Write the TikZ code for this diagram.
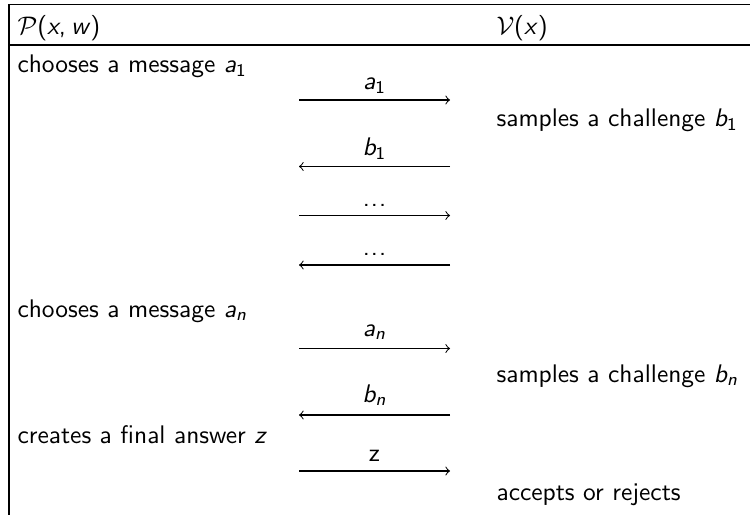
\documentclass[tikz,border=0pt]{standalone}
\usepackage{amsmath}
\newcommand{\iv}[1]{\textsl{#1}}
\newcommand{\sub}[1]{_{\textsf{\upshape #1}}}
\newcommand{\mydots}{{.}\kern0.4pt{.}\kern0.4pt{.}}
\tikzset{
  txt/.style={anchor=base west, inner sep=0pt, font=\sffamily},
  lbl/.style={anchor=base, inner sep=0pt, font=\sffamily},
  rule/.style={line width=0.45pt},
  msg/.style={->, line width=0.4pt}
}
\begin{document}
\begin{tikzpicture}[x=0.393pt,y=-0.393pt]
\useasboundingbox (0,0) rectangle (750,515);
% frame
\coordinate (tl) at (9,4.5);
\coordinate (tr) at (750,4.5);
\coordinate (bl) at (9,515);
\coordinate (hl) at (9,45);
\coordinate (hr) at (750,45);
\draw[rule] (tr) -- (tl) -- (bl);
\draw[rule] (hl) -- (hr);
% header
\node[txt] (hp) at (17,35) {$\mathcal{P}$(\iv{x},\kern2pt\iv{w})};
\node[txt] (hv) at (496,35) {$\mathcal{V}$(\iv{x})};
% prover / verifier texts
\node[txt] (p1) at (17,73) {chooses a message $\iv{a}\sub{1}$};
\node[txt] (v1) at (496,127) {samples a challenge $\iv{b}\sub{1}$};
\node[txt] (pn) at (17,317) {chooses a message $\iv{a}\sub{\slshape n}$};
\node[txt] (vn) at (496,382) {samples a challenge $\iv{b}\sub{\slshape n}$};
\node[txt] (pz) at (17,443) {creates a final answer \iv{z}};
\node[txt] (vz) at (496,500) {accepts or rejects};
% arrows
\coordinate (a1l) at (299,100); \coordinate (a1r) at (450,100);
\coordinate (b1l) at (299,166.5); \coordinate (b1r) at (450,166.5);
\coordinate (d1l) at (299,215.5); \coordinate (d1r) at (450,215.5);
\coordinate (d2l) at (299,265); \coordinate (d2r) at (450,265);
\coordinate (anl) at (299,348.5); \coordinate (anr) at (450,348.5);
\coordinate (bnl) at (299,415); \coordinate (bnr) at (450,415);
\coordinate (zl) at (299,471); \coordinate (zr) at (450,471);
\draw[msg] (a1l) -- (a1r);
\draw[msg] (b1r) -- (b1l);
\draw[msg] (d1l) -- (d1r);
\draw[msg] (d2r) -- (d2l);
\draw[msg] (anl) -- (anr);
\draw[msg] (bnr) -- (bnl);
\draw[msg] (zl) -- (zr);
% arrow labels
\node[lbl] (la1) at (374.5,90) {$\iv{a}\sub{1}$};
\node[lbl] (lb1) at (374.5,156) {$\iv{b}\sub{1}$};
\node[lbl] (ld1) at (374.5,206) {\mydots};
\node[lbl] (ld2) at (374.5,255) {\mydots};
\node[lbl] (lan) at (374.5,336) {$\iv{a}\sub{\slshape n}$};
\node[lbl] (lbn) at (374.5,402) {$\iv{b}\sub{\slshape n}$};
\node[lbl] (lz) at (374.5,461.5) {z};
\end{tikzpicture}
\end{document}
